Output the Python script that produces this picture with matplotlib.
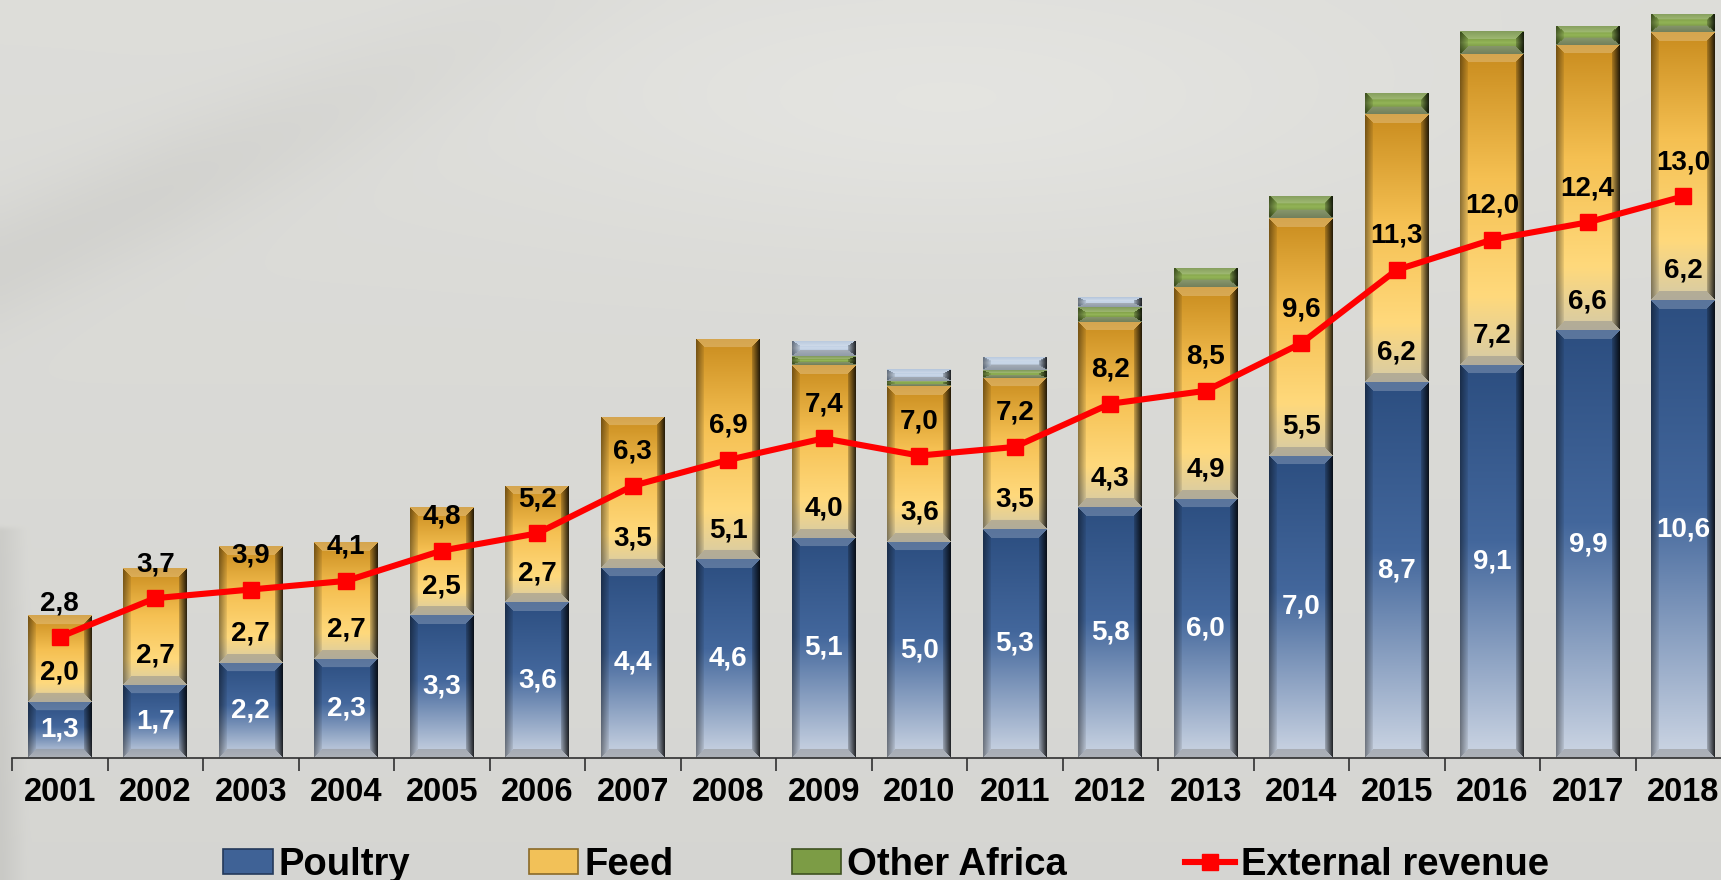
import numpy as np
import matplotlib
matplotlib.use("Agg")
import matplotlib.pyplot as plt
from matplotlib.colors import to_rgb
from matplotlib.patches import Patch
from matplotlib.lines import Line2D

# ---------------- data ----------------
years = ["2001", "2002", "2003", "2004", "2005", "2006", "2007", "2008", "2009",
         "2010", "2011", "2012", "2013", "2014", "2015", "2016", "2017", "2018"]
poultry = [1.3, 1.7, 2.2, 2.3, 3.3, 3.6, 4.4, 4.6, 5.1, 5.0, 5.3, 5.8, 6.0, 7.0, 8.7, 9.1, 9.9, 10.6]
feed = [2.0, 2.7, 2.7, 2.7, 2.5, 2.7, 3.5, 5.1, 4.0, 3.6, 3.5, 4.3, 4.9, 5.5, 6.2, 7.2, 6.6, 6.2]
other_africa = [0, 0, 0, 0, 0, 0, 0, 0, 0.20, 0.13, 0.18, 0.34, 0.45, 0.52, 0.49, 0.53, 0.44, 0.42]
other = [0, 0, 0, 0, 0, 0, 0, 0, 0.36, 0.27, 0.31, 0.23, 0, 0, 0, 0, 0, 0]
external = [2.8, 3.7, 3.9, 4.1, 4.8, 5.2, 6.3, 6.9, 7.4, 7.0, 7.2, 8.2, 8.5, 9.6, 11.3, 12.0, 12.4, 13.0]

FONT = "Liberation Sans"
plt.rcParams["font.family"] = [FONT, "DejaVu Sans"]
plt.rcParams["font.weight"] = "bold"

FW, FH, DPI = 1721, 880, 100
fig = plt.figure(figsize=(FW / DPI, FH / DPI), dpi=DPI)

# ---------------- background ----------------
bg = fig.add_axes([0, 0, 1, 1], zorder=-10)
ny, nx = 220, 430
yy, xx = np.mgrid[0:1:ny * 1j, 0:1:nx * 1j]
base = np.array([0.868, 0.868, 0.854])
d = (yy + 0.9 * xx - 0.30)
band = 0.035 * np.exp(-(d / 0.07) ** 2) * np.clip(1.3 - xx * 3.0, 0, 1)
light = 0.03 * np.exp(-((xx - 0.55) ** 2 / 0.06 + (yy - 0.12) ** 2 / 0.02))
leftstrip = 0.05 * np.clip(1 - xx / 0.015, 0, 1) * (yy > 0.6)
val = base[None, None, :] - band[..., None] + light[..., None] - 0.03 * yy[..., None] - leftstrip[..., None]
bg.imshow(np.clip(val, 0, 1), extent=(0, 1, 0, 1), aspect="auto", interpolation="bicubic")
bg.axis("off")

# ---------------- main axes ----------------
PXU = 43.2             # pixels per unit
x0px, ybase = 12, 758
step = 95.5
ax = fig.add_axes([x0px / FW, (FH - ybase) / FH, 18 * step / FW, ybase / FH])
ax.set_facecolor("none")
ymax = ybase / PXU
x = np.arange(len(years))
bw = 0.665


def seg_image(hpx, wpx, stops, bt=9.0, bs=8.0):
    hpx = max(int(round(hpx)), 2)
    wpx = int(round(wpx))
    t = np.linspace(0, 1, hpx)
    pos = [s[0] for s in stops]
    cols = np.array([to_rgb(s[1]) for s in stops])
    col = np.stack([np.interp(t, pos, cols[:, k]) for k in range(3)], axis=1)
    img = np.repeat(col[:, None, :], wpx, axis=1).copy()
    Y, X = np.mgrid[0:hpx, 0:wpx]
    bt = min(bt, hpx / 3.0)
    dt = Y / bt
    db = (hpx - 1 - Y) / bt
    dl = X / bs
    dr = (wpx - 1 - X) / bs
    D = np.stack([dt, db, dl, dr])
    m = D.min(axis=0)
    reg = D.argmin(axis=0)
    inside = m < 1
    grey = np.array([0.55, 0.55, 0.55])
    top = inside & (reg == 0)
    img[top] = img[top] * 0.78 + 0.22
    bot = inside & (reg == 1)
    img[bot] = img[bot] * 0.5 + grey * 0.5
    lef = inside & (reg == 2)
    img[lef] = img[lef] * (0.58 + 0.37 * dl[lef])[:, None]
    rig = inside & (reg == 3)
    img[rig] = img[rig] * (0.2 + 0.65 * dr[rig])[:, None]
    return np.clip(img, 0, 1)


series = [
    ("Poultry", poultry, [(0, "#2C4E80"), (0.45, "#43679C"), (1, "#CDD6E4")], "#3F6296"),
    ("Feed", feed, [(0, "#C98C1E"), (0.4, "#F5C052"), (0.78, "#FFD97C"), (1, "#D6CBA6")], "#F0BE55"),
    ("Other Africa", other_africa, [(0, "#62822F"), (0.5, "#93B457"), (1, "#5A762C")], "#7C9C45"),
    ("_other", other, [(0, "#A3B8D3"), (0.5, "#CBD9EA"), (1, "#98ACC6")], "#B8C9DE"),
]

bottom = np.zeros(len(years))
for name, vals, stops, fc in series:
    vals = np.array(vals, dtype=float)
    bars = ax.bar(x, vals, bw, bottom=bottom, color=fc, edgecolor="none", zorder=2)
    for patch, v in zip(bars.patches, vals):
        if v <= 0:
            continue
        px0, py0 = patch.get_x(), patch.get_y()
        pw, ph = patch.get_width(), patch.get_height()
        img = seg_image(ph * PXU, pw * step, stops)
        im = ax.imshow(img, extent=(px0, px0 + pw, py0, py0 + ph), aspect="auto",
                       origin="upper", interpolation="bilinear", zorder=2.1)
        im.set_clip_path(patch)
    bottom = bottom + vals

# external revenue line
ax.plot(x, external, color="#FF0000", lw=4.4, marker="s", ms=11.5, zorder=5,
        solid_joinstyle="miter")


def fmt(v):
    return f"{v:.1f}".replace(".", ",")


lab_kw = dict(fontsize=20, fontweight="bold", ha="center", va="center", zorder=7)
for i in range(len(years)):
    ax.text(x[i], poultry[i] / 2, fmt(poultry[i]), color="white", **lab_kw)
    ax.annotate(fmt(feed[i]), (x[i], poultry[i]), xytext=(0, 21), textcoords="offset points",
                color="black", **lab_kw)
    ax.annotate(fmt(external[i]), (x[i], external[i]), xytext=(0, 24.5), textcoords="offset points",
                color="black", **lab_kw)

ax.set_xlim(-0.5, 17.5)
ax.set_ylim(0, ymax)
ax.set_yticks([])
ax.set_xticks(x)
ax.set_xticklabels(years, fontsize=23.5, fontweight="bold")
ax.set_xticks(np.arange(-0.5, 18, 1), minor=True)
ax.tick_params(axis="x", which="major", length=0, pad=14)
ax.tick_params(axis="x", which="minor", length=9, width=1.2, color="#303030")
for s in ["top", "left", "right"]:
    ax.spines[s].set_visible(False)
ax.spines["bottom"].set_color("#303030")
ax.spines["bottom"].set_linewidth(1.2)

# cut-off heading at the very top
fig.text(36 / FW, 1 + 8 / FH, "(R billion)", fontsize=26, fontweight="bold",
         ha="left", va="baseline", color="black")

# ---------------- legend ----------------
handles = [
    Patch(facecolor="#3F6296", edgecolor="#24395A", lw=1.2),
    Patch(facecolor="#F2C158", edgecolor="#8A6A28", lw=1.2),
    Patch(facecolor="#7C9C45", edgecolor="#3E5220", lw=1.2),
    Line2D([0], [0], color="#FF0000", lw=4.4, marker="s", ms=11.5),
]
labels = ["Poultry", "Feed", "Other Africa", "External revenue"]
fig.legend(handles, labels, loc="center", bbox_to_anchor=(886 / FW, 15 / FH), ncol=4,
           frameon=False, prop={"family": FONT, "weight": "bold", "size": 27.5},
           handlelength=1.3, handleheight=0.6, handletextpad=0.15, columnspacing=3.1,
           borderpad=0, borderaxespad=0)

fig.savefig("out.png", dpi=DPI)
